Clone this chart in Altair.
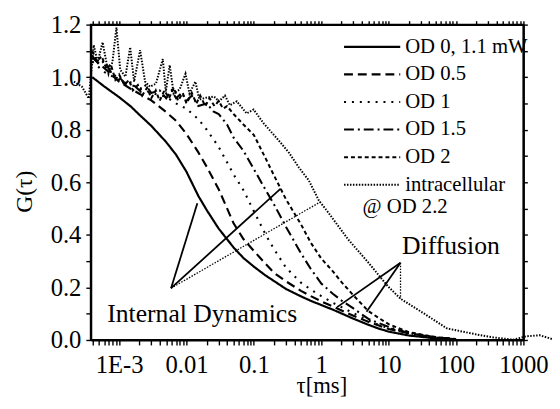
import altair as alt
import pandas as pd

FONT = "Liberation Serif"

SERIES = ["OD 0, 1.1 mW", "OD 0.5", "OD 1", "OD 1.5", "OD 2", "intracellular"]
DASHES = [[1, 0], [9, 5], [2, 6], [10, 4, 2, 4], [4, 3], [1.5, 1.5]]
WIDTHS = [2.2, 2.0, 2.2, 2.0, 1.8, 1.2]

TAU_GRID = [0.0004, 0.0006, 0.001, 0.0015, 0.002, 0.003, 0.005, 0.007, 0.01, 0.015,
            0.02, 0.03, 0.05, 0.07, 0.1, 0.15, 0.2, 0.3, 0.5, 0.7,
            1, 1.5, 2, 3, 5, 7, 10, 20, 50, 100]

G_OD0 = [1.00, 0.965, 0.924, 0.888, 0.857, 0.815, 0.753, 0.705, 0.640, 0.548,
         0.494, 0.424, 0.352, 0.312, 0.279, 0.245, 0.224, 0.194, 0.166, 0.149,
         0.133, 0.115, 0.101, 0.081, 0.058, 0.044, 0.032, 0.017, 0.006, 0.003]
G_OD05 = [1.075, 1.035, 0.983, 0.955, 0.937, 0.912, 0.867, 0.834, 0.784, 0.714,
          0.659, 0.574, 0.444, 0.384, 0.339, 0.289, 0.255, 0.223, 0.187, 0.167,
          0.147, 0.127, 0.112, 0.092, 0.069, 0.056, 0.042, 0.026, 0.010, 0.003]
G_OD1 = [1.06, 1.02, 0.99, 0.97, 0.96, 0.94, 0.925, 0.90, 0.88, 0.84,
         0.80, 0.735, 0.63, 0.57, 0.49, 0.40, 0.345, 0.275, 0.218, 0.192,
         0.167, 0.141, 0.125, 0.102, 0.074, 0.058, 0.045, 0.024, 0.009, 0.003]

TAU_OD15 = [0.0004, 0.0005, 0.0006, 0.0008, 0.001, 0.0013, 0.0015, 0.002, 0.0025, 0.003,
            0.004, 0.005, 0.006, 0.007, 0.0085, 0.01, 0.012, 0.015, 0.02, 0.025,
            0.03, 0.04, 0.05, 0.07, 0.1, 0.15, 0.2, 0.3, 0.5, 0.7,
            1, 1.5, 2, 3, 5, 7, 10, 20, 50, 100]
G_OD15 = [1.08, 1.05, 1.06, 1.01, 1.00, 0.97, 0.98, 0.95, 0.97, 0.94,
          0.95, 0.92, 0.95, 0.92, 0.94, 0.91, 0.93, 0.89, 0.90, 0.87,
          0.86, 0.82, 0.77, 0.72, 0.65, 0.57, 0.515, 0.43, 0.33, 0.27,
          0.215, 0.175, 0.15, 0.12, 0.08, 0.065, 0.05, 0.026, 0.009, 0.003]

TAU_OD2 = [0.0004, 0.00047, 0.00055, 0.00065, 0.00075, 0.00088, 0.001, 0.0012, 0.0014, 0.0016,
           0.0019, 0.0022, 0.0026, 0.003, 0.0035, 0.004, 0.0047, 0.0055, 0.0065, 0.0075,
           0.0088, 0.01, 0.012, 0.014, 0.016, 0.019, 0.022, 0.026, 0.03, 0.035,
           0.04, 0.05, 0.07, 0.1, 0.15, 0.2, 0.3, 0.5, 0.7, 1,
           1.5, 2, 3, 5, 7, 10, 20, 50, 100]
G_OD2 = [1.10, 1.06, 1.08, 1.03, 1.05, 0.99, 1.01, 0.97, 0.99, 0.95,
         0.97, 0.93, 0.96, 0.92, 0.95, 0.91, 0.95, 0.92, 0.96, 0.91,
         0.94, 0.90, 0.94, 0.90, 0.93, 0.89, 0.92, 0.89, 0.91, 0.88,
         0.89, 0.86, 0.82, 0.78, 0.69, 0.625, 0.535, 0.44, 0.37, 0.31,
         0.26, 0.22, 0.17, 0.11, 0.085, 0.06, 0.03, 0.011, 0.004]

TAU_INTRA = [0.000214, 0.000281, 0.000355, 0.00042, 0.000481, 0.000569, 0.000697, 0.000797, 0.000912, 0.00104,
             0.00124, 0.00146, 0.00167, 0.00205, 0.00243, 0.00287, 0.00352, 0.00445, 0.00493, 0.00564,
             0.00645, 0.0079, 0.00967, 0.01107, 0.01355, 0.0155, 0.0203, 0.0257, 0.0304, 0.0372,
             0.0441, 0.0558, 0.0661, 0.0781, 0.099, 0.139, 0.238, 0.333, 0.467, 0.654,
             0.916, 1.28, 2.52, 4.94, 9.7, 15.0, 33.8, 73.3, 231, 357,
             702, 1089, 1746, 2704]
G_INTRA = [0.983, 0.964, 0.919, 1.122, 1.058, 1.133, 1.013, 1.058, 1.189, 1.028,
           1.002, 1.114, 0.983, 1.103, 0.983, 0.964, 0.975, 1.069, 0.945, 1.046,
           0.938, 0.953, 1.013, 0.938, 0.983, 0.915, 0.923, 0.926, 0.908, 0.930,
           0.893, 0.908, 0.885, 0.862, 0.877, 0.825, 0.757, 0.712, 0.656, 0.607,
           0.532, 0.484, 0.382, 0.296, 0.205, 0.157, 0.100, 0.044, 0.018, 0.010,
           0.001, 0.014, 0.018, 0.003]

# annotation pointers (data coordinates)
PTR_SEG = ["id1", "id1", "id2", "id2", "df1", "df1", "df2", "df2"]
PTR_TAU = [0.0059, 0.0145, 0.0059, 0.25, 15, 1.72, 15, 4.7]
PTR_G = [0.197, 0.52, 0.197, 0.576, 0.294, 0.125, 0.294, 0.107]
DOT_SEG = ["id3", "id3", "df3", "df3"]
DOT_TAU = [0.0059, 0.98, 15, 15]
DOT_G = [0.197, 0.526, 0.294, 0.157]

ANNOT_TEXT = ["Internal Dynamics", "Diffusion"]
ANNOT_TAU = [0.0171, 84]
ANNOT_G = [0.100, 0.357]

SUB_TEXT = ["@ OD 2.2"]
SUB_TAU = [4.1]
SUB_G = [0.507]

X_DOMAIN = [3.8e-4, 1000]
Y_DOMAIN = [0, 1.2]
X_MAJOR = [0.001, 0.01, 0.1, 1, 10, 100, 1000]
X_MINOR = [m * 10.0 ** k for k in range(-4, 3) for m in range(2, 10)
           if X_DOMAIN[0] <= m * 10.0 ** k <= X_DOMAIN[1]]
X_TICKS = sorted(X_MAJOR + X_MINOR)
Y_TICKS = [round(i * 0.1, 1) for i in range(13)]

W, H = 439, 320

rows = []
for name, taus, gs in [(SERIES[0], TAU_GRID, G_OD0), (SERIES[1], TAU_GRID, G_OD05),
                       (SERIES[2], TAU_GRID, G_OD1), (SERIES[3], TAU_OD15, G_OD15),
                       (SERIES[4], TAU_OD2, G_OD2), (SERIES[5], TAU_INTRA, G_INTRA)]:
    for t, g in zip(taus, gs):
        rows.append({"series": name, "tau": t, "G": g})
curves = pd.DataFrame(rows)
ptr = pd.DataFrame({"seg": PTR_SEG, "tau": PTR_TAU, "G": PTR_G})
dots = pd.DataFrame({"seg": DOT_SEG, "tau": DOT_TAU, "G": DOT_G})
annot = pd.DataFrame({"text": ANNOT_TEXT, "tau": ANNOT_TAU, "G": ANNOT_G})
sub = pd.DataFrame({"text": SUB_TEXT, "tau": SUB_TAU, "G": SUB_G})

# frame outline traced through the tick positions (closed loop around the domain)
X0, X1 = X_DOMAIN
Y0, Y1 = Y_DOMAIN
frame_pts = ([(t, Y0) for t in [X0] + X_TICKS] +
             [(X1, g) for g in Y_TICKS] +
             [(t, Y1) for t in reversed([X0] + X_TICKS)] +
             [(X0, g) for g in reversed(Y_TICKS)])
frame = pd.DataFrame({"k": list(range(len(frame_pts))),
                      "tau": [p[0] for p in frame_pts],
                      "G": [p[1] for p in frame_pts],
                      "part": ["frame"] * len(frame_pts)})

MAJ_X = "abs(log(datum.value)/LN10 - round(log(datum.value)/LN10)) < 0.001"
MAJ_Y = "abs(datum.value*5 - round(datum.value*5)) < 0.001"

xscale = alt.Scale(type="log", domain=X_DOMAIN, nice=False)
yscale = alt.Scale(domain=Y_DOMAIN, nice=False, zero=False)

frame_style = dict(domain=True, domainColor="black", domainWidth=2,
                   ticks=True, tickColor="black", tickWidth=1.4,
                   grid=False, labelFlush=False, labelOverlap=False)

x_axis = alt.Axis(orient="bottom", values=X_TICKS, format="~g",
                  labelExpr=f"({MAJ_X}) ? (datum.value < 0.002 ? '1E-3' : datum.label) : ''",
                  tickSize=5,
                  labelFont=FONT, labelFontSize=25, labelColor="black", labelPadding=8,
                  title="τ[ms]", titleFont=FONT, titleFontSize=23, titleFontWeight="normal",
                  titleColor="black", titleX=234, titleY=53, titleBaseline="alphabetic",
                  **frame_style)
y_axis = alt.Axis(orient="left", values=Y_TICKS,
                  labelExpr=f"({MAJ_Y}) ? format(datum.value, '.1f') : ''",
                  tickSize=5,
                  labelFont=FONT, labelFontSize=25, labelColor="black", labelPadding=5,
                  title="G(τ)", titleFont=FONT, titleFontSize=24, titleFontWeight="normal",
                  titleColor="black", titleX=-60, titleY=169, titleBaseline="alphabetic",
                  **frame_style)
x_top = alt.Axis(orient="top", values=X_TICKS, labels=False, title=None, tickSize=4,
                 **frame_style)
y_right = alt.Axis(orient="right", values=Y_TICKS, labels=False, title=None, tickSize=4,
                   **frame_style)


def xy(xa=None, ya=None):
    return dict(x=alt.X("tau:Q", scale=xscale, axis=xa),
                y=alt.Y("G:Q", scale=yscale, axis=ya))


lines = alt.Chart(curves).mark_line(stroke="black").encode(
    **xy(x_axis, y_axis),
    strokeDash=alt.StrokeDash("series:N", scale=alt.Scale(domain=SERIES, range=DASHES),
                              legend=alt.Legend(title=None)),
    strokeWidth=alt.StrokeWidth("series:N", scale=alt.Scale(domain=SERIES, range=WIDTHS),
                                legend=alt.Legend(title=None)),
    order=alt.Order("tau:Q"),
)

pointers = alt.Chart(ptr).mark_line(stroke="black", strokeWidth=1.8).encode(
    **xy(x_top, y_right), detail="seg:N")

dotted = alt.Chart(dots).mark_line(stroke="black", strokeWidth=1.3,
                                   strokeDash=[1.5, 1.5]).encode(**xy(), detail="seg:N")

frame_layer = alt.Chart(frame).mark_line(stroke="black", strokeWidth=2).encode(
    **xy(), detail="part:N", order=alt.Order("k:Q"))

labels = alt.Chart(annot).mark_text(font=FONT, fontSize=26, color="black",
                                     align="center", baseline="middle").encode(
    **xy(), text="text:N")

sublabel = alt.Chart(sub).mark_text(font=FONT, fontSize=21, color="black",
                                     align="left", baseline="middle").encode(
    **xy(), text="text:N")

chart = alt.layer(lines, pointers, dotted, frame_layer, labels, sublabel).resolve_axis(
    x="independent", y="independent"
).properties(
    width=W, height=H,
    padding={"left": 84, "top": 14, "right": 29, "bottom": 56},
    autosize=alt.AutoSizeParams(type="none"),
).configure_view(stroke=None).configure_legend(
    orient="none", legendX=275, legendY=12, symbolType="M-5,0H5", symbolSize=130,
    symbolStrokeColor="black", labelFont=FONT, labelFontSize=21, labelColor="black",
    labelOffset=23, rowPadding=6, padding=0, labelLimit=300,
)

chart.save("out.html", embed_options={"renderer": "svg", "actions": False})
